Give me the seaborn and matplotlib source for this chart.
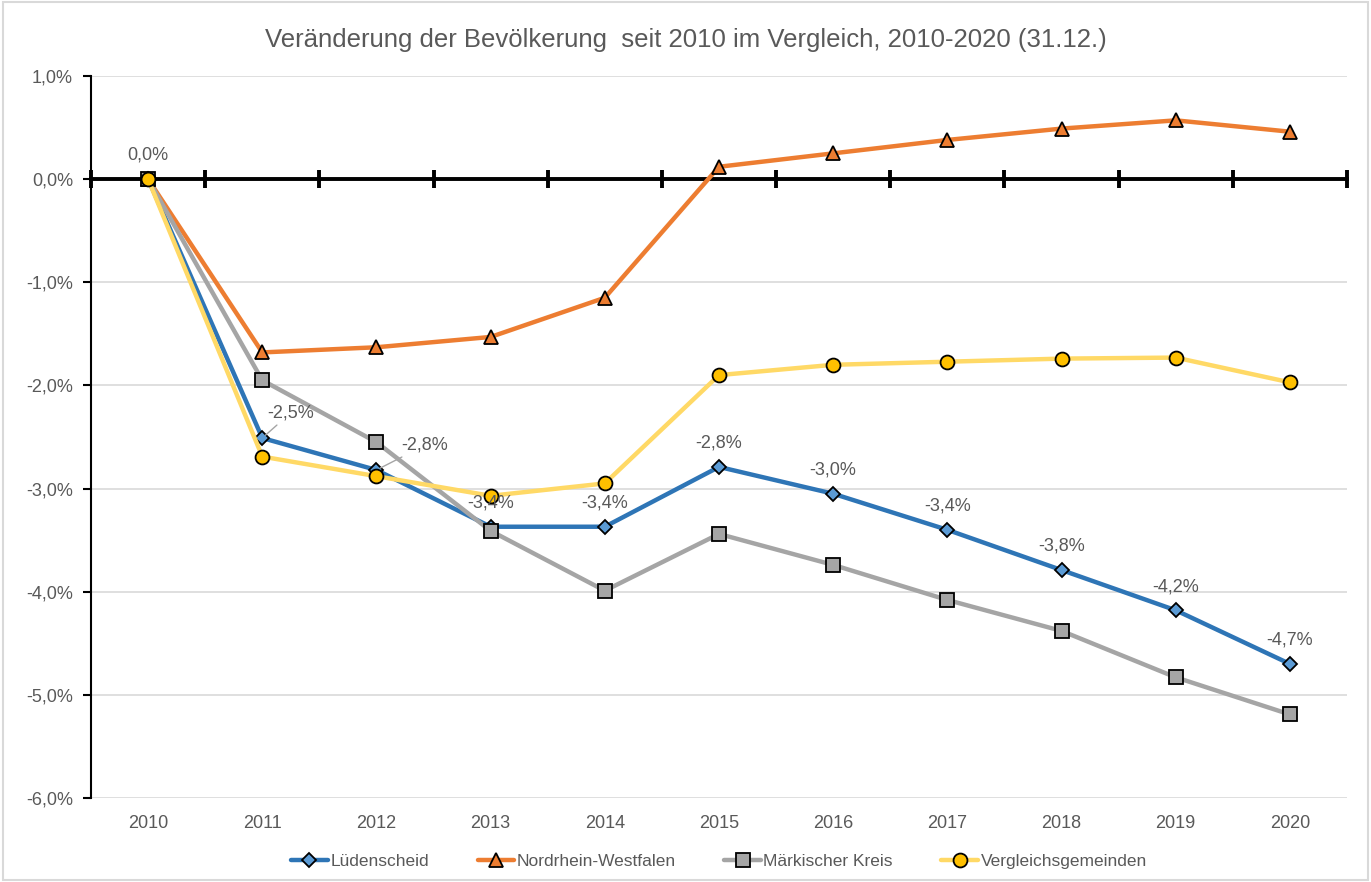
import matplotlib
matplotlib.use("Agg")
import matplotlib.pyplot as plt
import seaborn as sns
import pandas as pd
import numpy as np

# --- Daten (Veränderung seit 2010 in %) ---
jahre = [2010, 2011, 2012, 2013, 2014, 2015, 2016, 2017, 2018, 2019, 2020]
luedenscheid = [0.0, -2.51, -2.82, -3.37, -3.37, -2.79, -3.05, -3.40, -3.79, -4.18, -4.70]
nrw = [0.0, -1.68, -1.63, -1.53, -1.15, 0.12, 0.25, 0.38, 0.49, 0.57, 0.46]
maerkischer_kreis = [0.0, -1.95, -2.55, -3.41, -3.99, -3.44, -3.74, -4.08, -4.38, -4.83, -5.19]
vergleichsgemeinden = [0.0, -2.69, -2.88, -3.07, -2.95, -1.90, -1.80, -1.77, -1.74, -1.73, -1.97]

TEXT = "#595959"

sns.set_theme(style="white")
plt.rcParams["font.family"] = ["Liberation Sans", "DejaVu Sans"]

serien = [
    # name, werte, linienfarbe, marker, markerfarbe, zorder, markergroesse
    ("Lüdenscheid", luedenscheid, "#2E75B6", "D", "#5B9BD5", 3, 7.5),
    ("Nordrhein-Westfalen", nrw, "#ED7D31", "^", "#ED7D31", 4, 9.5),
    ("Märkischer Kreis", maerkischer_kreis, "#A5A5A5", "s", "#A5A5A5", 5, 9.5),
    ("Vergleichsgemeinden", vergleichsgemeinden, "#FFD966", "o", "#FFC000", 6, 10),
]

fig = plt.figure(figsize=(13.71, 8.82), dpi=100)
ax = fig.add_axes([91 / 1371, 1 - 798 / 882, (1347 - 91) / 1371, (798 - 76) / 882])

x = np.arange(len(jahre))
for name, werte, farbe, marker, mfarbe, z, ms in serien:
    df = pd.DataFrame({"x": x, "wert": werte})
    sns.lineplot(data=df, x="x", y="wert", ax=ax, color=farbe, lw=3.2,
                 marker=marker, markersize=ms, markerfacecolor=mfarbe,
                 markeredgecolor="black", markeredgewidth=1.3,
                 label=name, zorder=z)

# Achsen
ax.set_xlim(-0.5, len(jahre) - 0.5)
ax.set_ylim(-6, 1)
ax.set_yticks(np.arange(-6, 1.01, 1))
ax.set_yticklabels([f"{v:.1f}%".replace(".", ",") for v in np.arange(-6, 1.01, 1)],
                   color=TEXT, fontsize=13)
ax.yaxis.grid(True, color="#D9D9D9", lw=1.2)
ax.set_xlabel("")
ax.set_ylabel("")
for s in ["top", "right"]:
    ax.spines[s].set_visible(False)
ax.spines["left"].set_color("black")
ax.spines["left"].set_linewidth(1.5)
ax.tick_params(axis="y", left=True, direction="out", length=6, width=1.5,
               color="black", pad=7)

# horizontale Achse bei 0 mit Teilstrichen zwischen den Kategorien
ax.spines["bottom"].set_position(("data", 0))
ax.spines["bottom"].set_color("black")
ax.spines["bottom"].set_linewidth(2.8)
ax.spines["bottom"].set_zorder(2)
ax.set_xticks(np.arange(-0.5, len(jahre), 1))
ax.set_xticklabels([])
ax.tick_params(axis="x", bottom=True, direction="inout", length=13, width=2.8, color="black")

sec = ax.secondary_xaxis(0)
sec.set_xticks(x)
sec.set_xticklabels([str(j) for j in jahre], color=TEXT, fontsize=13)
sec.tick_params(bottom=False, length=0, pad=12)
sec.spines["bottom"].set_visible(False)

# Datenbeschriftungen Lüdenscheid
def fmt(v):
    return f"{v:.1f}%".replace(".", ",")

for i, v in enumerate(luedenscheid):
    if i == 1:
        ax.annotate(fmt(v), xy=(x[i], v), xytext=(x[i] + 0.04, v + 0.24),
                    fontsize=13, color=TEXT, ha="left", va="center", zorder=7,
                    arrowprops=dict(arrowstyle="-", color="#A5A5A5", lw=1,
                                    shrinkA=0, shrinkB=3))
    elif i == 2:
        ax.annotate(fmt(v), xy=(x[i], v), xytext=(x[i] + 0.22, v + 0.24),
                    fontsize=13, color=TEXT, ha="left", va="center", zorder=7,
                    arrowprops=dict(arrowstyle="-", color="#A5A5A5", lw=1,
                                    shrinkA=0, shrinkB=3))
    else:
        ax.annotate(fmt(v), xy=(x[i], v), xytext=(0, 11), textcoords="offset points",
                    fontsize=13, color=TEXT, ha="center", va="bottom", zorder=7)

fig.suptitle("Veränderung der Bevölkerung  seit 2010 im Vergleich, 2010-2020 (31.12.)",
             y=1 - 40 / 882, va="center", fontsize=18.5, color=TEXT)

ax.legend(loc="center", bbox_to_anchor=(0.5, -0.088), ncol=4, frameon=False,
          fontsize=12.5, labelcolor=TEXT, handlelength=2.1, handletextpad=0.15,
          columnspacing=2.8)

fig.patches.append(plt.Rectangle((0.002, 0.002), 0.996, 0.996, transform=fig.transFigure,
                                 fill=False, edgecolor="#D9D9D9", lw=1.5))

fig.savefig("out.png", dpi=100)
